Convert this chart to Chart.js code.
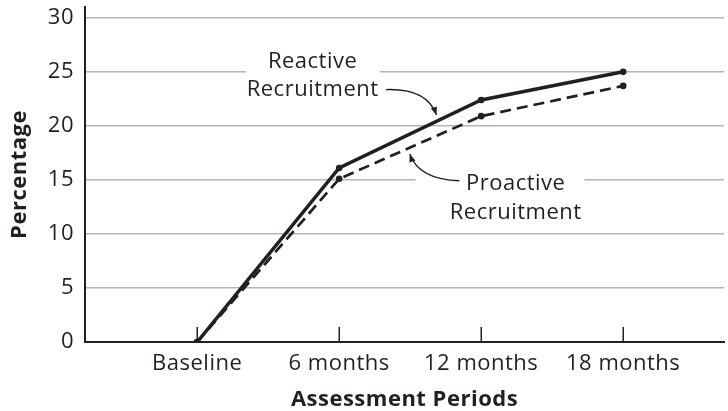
<!DOCTYPE html>
<html>
<head>
<meta charset="utf-8">
<script src="https://cdn.jsdelivr.net/npm/chart.js@4"></script>
<style>
  html, body { margin: 0; padding: 0; background: #fff; }
  #wrap { width: 728px; height: 411px; }
</style>
</head>
<body>
<div id="wrap"><canvas id="chart"></canvas></div>
<script>
// Values
const periods = ['Baseline', '6 months', '12 months', '18 months'];
const reactive = [0, 16.1, 22.4, 25.0];
const proactive = [0, 15.1, 20.9, 23.7];
const yTicks = [0, 5, 10, 15, 20, 25, 30];

const INK = '#231f20';
const GRID = '#b5b5b5';
const FONT = "'Open Sans', sans-serif";
const SIZE = 22;

// Callout labels, placed in data units so they follow the scales
const callouts = [
    {
        lines: ['Reactive', 'Recruitment'], x: 0.813, baselines: [25.38, 22.73],
        box: { x0: 0.343, x1: 1.287, y0: 27.6, y1: 21.6 },
        arrow: { from: [1.329, 23.36], ctrl: [1.62, 23.5], to: [1.685, 21.0] }
    },
    {
        lines: ['Proactive', 'Recruitment'], x: 2.243, baselines: [14.07, 11.39],
        box: { x0: 1.538, x1: 2.727, y0: 16.2, y1: 11.2 },
        arrow: { from: [1.846, 14.92], ctrl: [1.56, 15.05], to: [1.497, 17.4] }
    }
];

function spacing(chart) {
    chart.ctx.letterSpacing = '0.5px';
}

function arrowHead(ctx, x, y, angle) {
    ctx.save();
    ctx.translate(x, y);
    ctx.rotate(angle);
    ctx.beginPath();
    ctx.moveTo(0, 0);
    ctx.lineTo(-8, -3.2);
    ctx.lineTo(-8, 3.2);
    ctx.closePath();
    ctx.fill();
    ctx.restore();
}

const decorations = {
    id: 'decorations',
    beforeUpdate: spacing,
    beforeDraw: spacing,
    beforeDatasetsDraw(chart) {
        const ctx = chart.ctx;
        const xs = chart.scales.x, ys = chart.scales.y;
        ctx.save();

        // tick marks standing up from the x axis
        ctx.strokeStyle = INK;
        ctx.lineWidth = 1.5;
        periods.forEach((p, i) => {
            const px = Math.round(xs.getPixelForValue(i)) + 0.25;
            ctx.beginPath();
            ctx.moveTo(px, ys.bottom);
            ctx.lineTo(px, ys.bottom - 15);
            ctx.stroke();
        });

        callouts.forEach(c => {
            const b = c.box;
            const bx0 = xs.getPixelForValue(b.x0), bx1 = xs.getPixelForValue(b.x1);
            const by0 = ys.getPixelForValue(b.y0), by1 = ys.getPixelForValue(b.y1);
            ctx.fillStyle = '#fff';
            ctx.fillRect(bx0, by0, bx1 - bx0, by1 - by0);

            ctx.fillStyle = INK;
            ctx.font = SIZE + 'px ' + FONT;
            ctx.letterSpacing = '0.5px';
            ctx.textAlign = 'center';
            ctx.textBaseline = 'alphabetic';
            c.lines.forEach((t, k) => {
                ctx.fillText(t, xs.getPixelForValue(c.x), ys.getPixelForValue(c.baselines[k]));
            });

            const a = c.arrow;
            const p0 = [xs.getPixelForValue(a.from[0]), ys.getPixelForValue(a.from[1])];
            const pc = [xs.getPixelForValue(a.ctrl[0]), ys.getPixelForValue(a.ctrl[1])];
            const p1 = [xs.getPixelForValue(a.to[0]), ys.getPixelForValue(a.to[1])];
            ctx.strokeStyle = INK;
            ctx.lineWidth = 1.3;
            ctx.beginPath();
            ctx.moveTo(p0[0], p0[1]);
            ctx.quadraticCurveTo(pc[0], pc[1], p1[0], p1[1]);
            ctx.stroke();
            arrowHead(ctx, p1[0], p1[1], Math.atan2(p1[1] - pc[1], p1[0] - pc[0]));
        });

        ctx.restore();
    }
};

const ctx = document.getElementById('chart').getContext('2d');
new Chart(ctx, {
    type: 'line',
    data: {
        datasets: [{
            label: 'Reactive Recruitment',
            data: reactive.map((v, i) => ({ x: i, y: v })),
            borderColor: INK,
            borderWidth: 3.5,
            pointRadius: 3.3,
            pointBackgroundColor: INK,
            pointBorderWidth: 0,
            tension: 0
        }, {
            label: 'Proactive Recruitment',
            data: proactive.map((v, i) => ({ x: i, y: v })),
            borderColor: INK,
            borderWidth: 2.7,
            borderDash: [11, 6],
            pointRadius: 3.3,
            pointBackgroundColor: INK,
            pointBorderWidth: 0,
            tension: 0
        }]
    },
    options: {
        responsive: true,
        maintainAspectRatio: false,
        devicePixelRatio: 1,
        animation: false,
        layout: { padding: { top: 7, right: 0, bottom: 0, left: 0 } },
        plugins: {
            legend: { display: false },
            tooltip: { enabled: false }
        },
        scales: {
            x: {
                type: 'linear',
                min: -0.79,
                max: 3.71,
                afterBuildTicks: s => { s.ticks = periods.map((p, i) => ({ value: i })); },
                afterFit: s => { s.height = 69; s.paddingLeft = 0; s.paddingRight = 0; },
                grid: { drawOnChartArea: false, drawTicks: false },
                border: { display: true, color: INK, width: 2 },
                ticks: {
                    color: INK,
                    font: { family: FONT, size: SIZE },
                    padding: 9,
                    maxRotation: 0,
                    autoSkip: false,
                    callback: v => periods[v]
                },
                title: {
                    display: true,
                    text: 'Assessment Periods',
                    color: INK,
                    font: { family: FONT, size: SIZE, weight: 'bold', lineHeight: 1 },
                    padding: { top: 0, bottom: 0 }
                }
            },
            y: {
                min: 0,
                max: 31,
                afterBuildTicks: s => { s.ticks = yTicks.map(v => ({ value: v })); },
                afterFit: s => { s.width = 85; s.paddingTop = 0; s.paddingBottom = 0; },
                grid: { color: GRID, lineWidth: 1.5, drawTicks: false },
                border: { display: true, color: INK, width: 2 },
                ticks: {
                    color: INK,
                    font: { family: FONT, size: SIZE },
                    padding: 11
                },
                title: {
                    display: true,
                    text: 'Percentage',
                    color: INK,
                    font: { family: FONT, size: SIZE, weight: 'bold', lineHeight: 1 },
                    padding: { top: 9, bottom: 0 }
                }
            }
        }
    },
    plugins: [decorations]
});
</script>
</body>
</html>
